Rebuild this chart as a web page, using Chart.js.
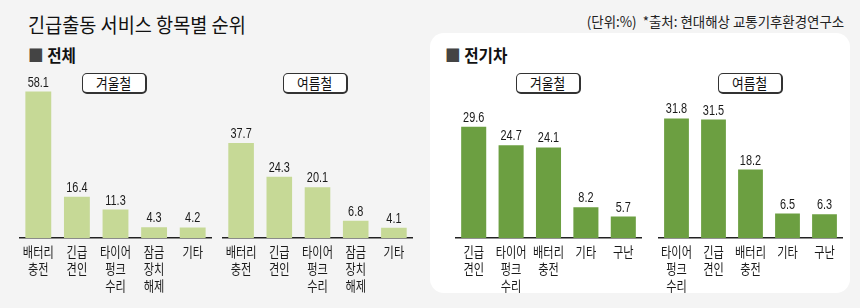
<!DOCTYPE html>
<html>
<head>
<meta charset="utf-8">
<script src="https://cdn.jsdelivr.net/npm/chart.js@4"></script>
<style>
  body { margin: 0; background: #f4f4f4; font-family: "Noto Sans CJK KR", sans-serif; }
  #wrap { position: relative; width: 860px; height: 308px; overflow: hidden; background: #f4f4f4; }
  .abs { position: absolute; }
  #title { left: 28px; top: 10px; font-size: 20px; font-weight: 400; color: #111; white-space: nowrap; transform: scaleX(0.93); transform-origin: left; }
  #source { right: 16px; top: 11px; font-size: 14px; color: #222; white-space: nowrap; transform: scaleX(0.96); transform-origin: right; }
  .sect { font-size: 17px; font-weight: bold; color: #111; white-space: nowrap; transform: scaleX(0.92); transform-origin: left; }
  .sect span { color: #444; font-weight: normal; }
  #panel { left: 430px; top: 33px; width: 420px; height: 260px; background: #fff; border-radius: 14px; }
  .season { width: 62px; height: 18px; background: #fff; border: 1px solid #333; border-right-width: 2px; border-bottom-width: 2px;
            border-radius: 5px; font-size: 15px; line-height: 18px; text-align: center; color: #111; }
  .season i { display: inline-block; font-style: normal; transform: scaleX(0.85); }
  canvas { position: absolute; }
</style>
</head>
<body>
<div id="wrap">
  <div id="panel" class="abs"></div>
  <div id="title" class="abs">긴급출동 서비스 항목별 순위</div>
  <div id="source" class="abs">(단위:%) &nbsp;*출처: 현대해상 교통기후환경연구소</div>
  <div class="abs sect" style="left:28px; top:42px;"><span>■</span> 전체</div>
  <div class="abs sect" style="left:445px; top:42px;"><span>■</span> 전기차</div>
  <div class="abs season" style="left:82px; top:73px;"><i>겨울철</i></div>
  <div class="abs season" style="left:283px; top:73px;"><i>여름철</i></div>
  <div class="abs season" style="left:516px; top:73px;"><i>겨울철</i></div>
  <div class="abs season" style="left:718px; top:73px;"><i>여름철</i></div>
  <canvas id="allWinter" width="193" height="244" style="left:19px; top:60px;"></canvas>
  <canvas id="allSummer" width="191" height="244" style="left:222px; top:60px;"></canvas>
  <canvas id="evWinter" width="187" height="224" style="left:455px; top:80px;"></canvas>
  <canvas id="evSummer" width="185" height="224" style="left:658px; top:80px;"></canvas>
</div>
<script>
// 전체
const allWinterLabels = [['배터리', '충전'], ['긴급', '견인'], ['타이어', '펑크', '수리'], ['잠금', '장치', '해제'], ['기타']];
const allWinterValues = [58.1, 16.4, 11.3, 4.3, 4.2];
const allSummerLabels = [['배터리', '충전'], ['긴급', '견인'], ['타이어', '펑크', '수리'], ['잠금', '장치', '해제'], ['기타']];
const allSummerValues = [37.7, 24.3, 20.1, 6.8, 4.1];

// 전기차
const evWinterLabels = [['긴급', '견인'], ['타이어', '펑크', '수리'], ['배터리', '충전'], ['기타'], ['구난']];
const evWinterValues = [29.6, 24.7, 24.1, 8.2, 5.7];
const evSummerLabels = [['타이어', '펑크', '수리'], ['긴급', '견인'], ['배터리', '충전'], ['기타'], ['구난']];
const evSummerValues = [31.8, 31.5, 18.2, 6.5, 6.3];

// value labels + category labels, squeezed like the newspaper font
const labelPlugin = {
    id: 'squeezedLabels',
    afterDatasetsDraw(chart) {
        const ctx = chart.ctx;
        const xs = chart.scales.x;
        const meta = chart.getDatasetMeta(0);
        ctx.save();
        ctx.fillStyle = '#1a1a1a';
        ctx.textAlign = 'center';
        meta.data.forEach((bar, i) => {
            const v = chart.data.datasets[0].data[i];
            ctx.save();
            ctx.translate(bar.x, bar.y - 5);
            ctx.scale(0.78, 1);
            ctx.font = '14px "Liberation Sans", Arial, sans-serif';
            ctx.textBaseline = 'alphabetic';
            ctx.fillText(v.toFixed(1), 0, 0);
            ctx.restore();

            const lines = chart.data.labels[i];
            lines.forEach((ln, k) => {
                ctx.save();
                ctx.translate(xs.getPixelForTick(i), xs.top + 14 + k * 16.8);
                ctx.scale(0.8, 1);
                ctx.font = '14px "Noto Sans CJK KR", sans-serif';
                ctx.textBaseline = 'middle';
                ctx.fillText(ln, 0, 0);
                ctx.restore();
            });
        });
        ctx.restore();
    }
};

function makeChart(id, labels, values, color, yMax, padTop) {
    return new Chart(document.getElementById(id), {
        type: 'bar',
        data: {
            labels: labels,
            datasets: [{
                data: values,
                backgroundColor: color,
                barPercentage: 0.67,
                categoryPercentage: 1
            }]
        },
        options: {
            responsive: false,
            animation: false,
            layout: { padding: { top: padTop, left: 0, right: 0, bottom: 0 } },
            plugins: { legend: { display: false }, tooltip: { enabled: false } },
            scales: {
                x: {
                    grid: { display: false, drawTicks: false },
                    border: { display: true, color: '#222', width: 1.6 },
                    ticks: { display: false },
                    afterFit: s => { s.height = 66; }
                },
                y: { display: false, min: 0, max: yMax }
            }
        },
        plugins: [labelPlugin]
    });
}

// baseline at y=238 for all four; 전체 ~2.52px per %, 전기차 ~3.76px per %
makeChart('allWinter', allWinterLabels, allWinterValues, '#c6d996', 60, 238 - 60 - 151.2);
makeChart('allSummer', allSummerLabels, allSummerValues, '#c6d996', 60, 238 - 60 - 151.2);
makeChart('evWinter', evWinterLabels, evWinterValues, '#6c9f41', 35, 238 - 80 - 131.6);
makeChart('evSummer', evSummerLabels, evSummerValues, '#6c9f41', 35, 238 - 80 - 131.6);
</script>
</body>
</html>
